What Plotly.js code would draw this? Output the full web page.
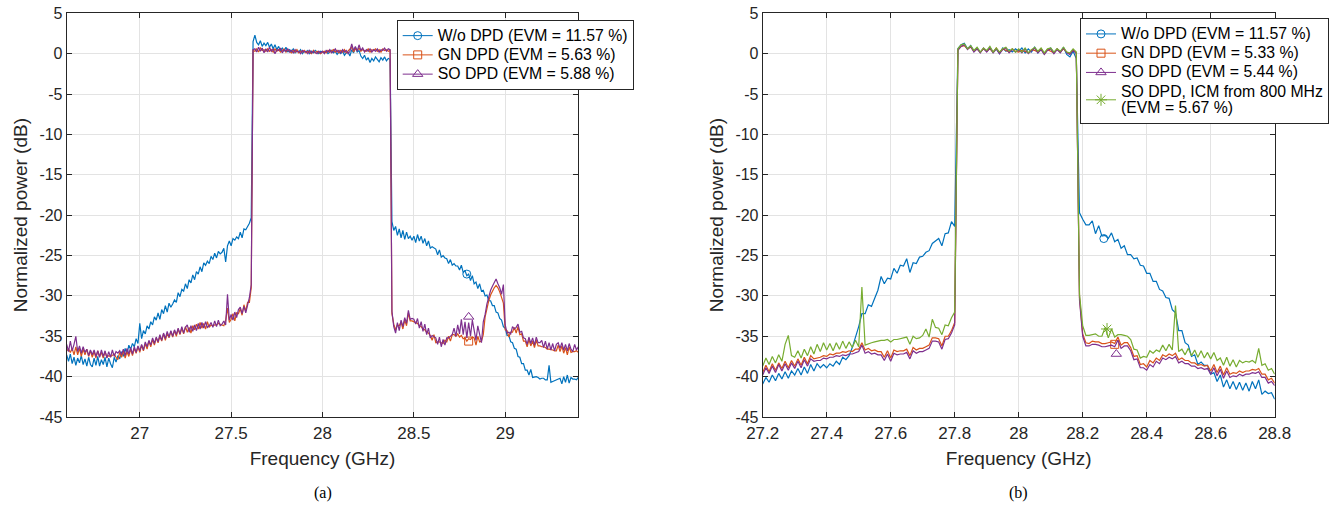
<!DOCTYPE html>
<html>
<head>
<meta charset="utf-8">
<script src="https://cdn.plot.ly/plotly-3.0.1.min.js"></script>
<style>html,body{margin:0;padding:0;background:#fff;}#chart{width:1337px;height:506px;}</style>
</head>
<body>
<div id="chart"></div>
<script>
// ---------- Panel (a): frequency grid 26.60 .. 29.40 GHz, 0.01 GHz step ----------
const fStartA = 26.6, fStepA = 0.01, nA = 281;
// ---------- Panel (b): frequency grid 27.20 .. 28.80 GHz, 0.01 GHz step ----------
const fStartB = 27.2, fStepB = 0.01, nB = 161;

// Panel (a) normalized power (dB)
const woA = [
-37.3,-38.1,-37.2,-38.4,-37.6,-38.6,-37.7,-38.3,-37.4,-38.5,
-37.8,-38.7,-37.6,-38.5,-38.8,-37.7,-38.6,-37.5,-38.7,-37.9,
-38.5,-37.6,-38.8,-37.7,-38.4,-38.9,-37.6,-38.2,-37.4,-37.8,
-36.9,-37.5,-36.5,-37.2,-36.1,-36.6,-35.9,-36.3,-35.3,-35.9,
-33.4,-35.3,-34.3,-34.7,-33.7,-34.1,-33.2,-33.6,-32.6,-33.0,
-32.1,-32.9,-31.7,-32.2,-31.2,-32.0,-30.9,-31.4,-31.0,-30.5,
-30.8,-29.6,-30.1,-29.2,-29.4,-28.5,-29.1,-28.0,-28.4,-27.4,
-28.0,-27.0,-27.3,-26.4,-27.0,-25.9,-26.2,-25.7,-26.0,-25.1,
-25.5,-24.7,-25.3,-24.5,-24.8,-24.6,-24.1,-25.8,-23.8,-23.2,
-23.8,-22.9,-23.1,-22.7,-22.9,-22.1,-22.8,-21.7,-21.8,-21.4,
-21.0,-20.3,1.5,2.3,1.4,1.1,1.6,0.9,1.3,1.0,
1.4,0.8,1.2,0.6,1.1,0.5,0.9,0.4,0.7,0.3,
0.8,0.2,0.5,0.3,0.6,0.1,0.4,0.2,0.5,0.0,
0.3,0.2,0.4,0.0,0.3,0.1,0.4,0.2,0.0,0.3,
0.2,0.1,0.3,0.0,0.2,0.4,0.1,0.3,-0.1,0.2,
0.0,0.3,-0.2,0.1,0.2,-0.3,0.5,0.1,0.8,0.2,
0.4,-0.3,-0.6,-0.2,-0.8,-0.5,-1.1,-0.6,-0.9,-0.4,
-0.7,-1.0,-0.5,-0.8,-0.4,-0.9,-0.6,-0.7,-20.8,-21.9,
-21.4,-22.5,-21.7,-22.8,-21.9,-23.0,-22.1,-22.9,-22.6,-23.1,
-22.6,-23.4,-22.4,-23.2,-22.6,-23.5,-22.9,-23.8,-23.2,-24.1,
-23.9,-24.0,-24.2,-24.9,-24.3,-25.2,-25.0,-25.3,-25.4,-26.0,
-25.5,-26.2,-26.0,-26.3,-26.3,-26.8,-26.2,-27.1,-26.9,-27.5,
-27.3,-28.1,-27.5,-28.5,-28.3,-29.1,-28.5,-29.4,-29.3,-30.0,
-29.9,-30.6,-30.6,-31.2,-31.2,-32.0,-32.1,-32.8,-33.0,-33.8,
-34.0,-34.9,-34.9,-35.7,-35.8,-36.5,-36.6,-37.5,-37.6,-38.4,
-38.4,-39.2,-39.2,-39.8,-39.1,-40.1,-40.0,-40.0,-40.1,-40.3,
-40.2,-40.2,-40.4,-40.4,-38.6,-40.7,-40.6,-40.5,-40.4,-40.3,
-40.2,-40.9,-40.0,-40.7,-39.8,-40.8,-40.1,-40.3,-40.3,-40.4,
-40.1];
const gnA = [
-36.8,-36.6,-37.0,-36.5,-37.3,-36.3,-37.3,-36.5,-37.5,-36.6,
-37.3,-36.6,-37.5,-36.8,-37.6,-36.9,-37.7,-36.8,-37.5,-37.0,
-37.7,-36.9,-37.6,-37.4,-37.5,-37.3,-37.2,-37.6,-37.9,-37.0,
-37.6,-36.8,-37.7,-36.9,-37.5,-36.6,-37.4,-36.5,-37.1,-36.3,
-37.0,-36.1,-36.8,-35.9,-36.6,-35.6,-36.3,-35.4,-36.1,-35.2,
-35.8,-35.0,-35.6,-34.7,-35.5,-34.6,-35.2,-34.4,-35.1,-34.3,
-35.0,-34.1,-34.8,-34.0,-34.7,-33.8,-34.5,-33.9,-34.6,-33.7,
-34.2,-33.5,-34.1,-33.3,-34.0,-33.4,-34.1,-33.2,-33.9,-33.6,
-33.7,-33.6,-33.6,-33.4,-33.5,-33.7,-33.7,-33.0,-31.5,-33.3,
-32.9,-32.2,-33.1,-32.1,-32.2,-31.6,-32.4,-31.1,-31.9,-30.8,
-30.8,-29.0,0.4,0.3,0.6,0.2,0.7,0.4,0.5,0.3,
0.6,0.3,0.5,0.2,0.6,0.3,0.5,0.2,0.4,0.6,
0.2,0.5,0.3,0.1,0.4,0.2,0.5,0.1,0.3,0.2,
0.4,0.1,0.3,0.2,0.0,0.4,0.1,0.3,0.2,0.0,
0.2,0.3,0.1,0.4,0.2,0.3,0.5,0.2,0.4,0.1,
0.4,0.2,0.5,0.1,0.3,0.6,0.8,0.2,0.6,0.4,
0.7,0.3,0.5,0.4,0.3,0.6,0.2,0.5,0.4,0.6,
0.3,0.5,0.2,0.6,0.4,0.5,0.3,0.4,-32.2,-33.5,
-34.2,-33.6,-33.7,-33.2,-34.1,-33.0,-33.7,-32.1,-33.1,-33.1,
-33.2,-33.4,-33.4,-33.7,-33.8,-34.1,-34.2,-34.5,-34.6,-34.9,
-35.5,-34.8,-35.8,-35.7,-35.7,-35.8,-35.9,-35.5,-35.7,-35.0,
-35.6,-34.8,-34.8,-35.0,-34.7,-35.1,-34.9,-35.3,-35.2,-35.6,
-35.3,-35.4,-35.1,-35.2,-36.1,-35.0,-35.7,-35.6,-34.8,-32.6,
-31.5,-30.6,-29.9,-29.4,-29.0,-28.7,-29.0,-29.5,-30.3,-30.9,
-34.2,-34.3,-35.1,-34.5,-34.5,-33.9,-34.6,-33.8,-34.8,-34.7,
-35.6,-35.6,-36.3,-35.4,-36.2,-35.6,-36.4,-35.5,-36.2,-36.2,
-36.3,-36.3,-36.4,-36.6,-36.6,-36.7,-36.7,-36.8,-36.8,-36.1,
-36.9,-36.2,-37.1,-36.4,-37.3,-36.3,-37.0,-36.9,-36.9,-36.8,
-37.0];
const soA = [
-36.0,-36.9,-35.6,-36.8,-36.0,-35.0,-36.9,-36.2,-37.1,-36.3,
-37.0,-36.6,-37.4,-36.7,-37.3,-36.7,-37.5,-36.8,-37.6,-36.7,
-37.5,-36.8,-37.7,-36.9,-37.6,-36.7,-37.5,-36.9,-37.1,-36.8,
-37.3,-36.6,-37.4,-36.5,-37.2,-36.4,-37.2,-36.3,-37.0,-36.2,
-36.8,-36.0,-36.7,-35.7,-36.3,-35.5,-36.1,-35.2,-35.9,-35.1,
-35.7,-34.8,-35.5,-34.6,-35.3,-34.4,-35.1,-34.3,-35.0,-34.2,
-34.8,-34.0,-34.7,-33.8,-34.6,-33.9,-33.6,-34.5,-33.7,-34.4,
-33.6,-34.3,-33.4,-34.1,-33.3,-34.0,-33.2,-33.9,-33.7,-33.3,
-33.9,-33.1,-33.8,-33.0,-33.7,-33.5,-33.1,-33.6,-29.8,-33.0,
-32.3,-33.0,-32.0,-32.7,-31.7,-31.4,-32.2,-31.3,-32.1,-31.1,
-30.2,-28.6,0.5,0.6,0.2,0.8,0.3,0.7,0.1,0.6,
0.2,0.8,0.3,0.6,0.0,0.5,0.4,0.7,0.1,0.5,
0.3,0.6,0.2,0.4,0.1,0.5,0.2,0.3,0.0,0.4,
0.2,0.3,0.0,0.4,0.1,0.3,0.2,0.0,0.3,0.1,
0.3,0.0,0.4,0.2,0.5,0.1,0.3,0.6,0.2,0.4,
0.1,0.5,0.2,0.4,0.0,0.3,1.2,0.4,0.9,0.3,
1.1,0.4,0.7,0.2,0.5,0.3,0.6,0.2,0.5,0.3,
0.6,0.2,0.5,0.4,0.7,0.3,0.6,0.5,-31.9,-33.8,
-34.6,-33.3,-34.3,-33.0,-33.8,-32.7,-33.4,-31.8,-32.9,-32.8,
-32.9,-33.5,-32.8,-34.0,-33.2,-34.4,-33.5,-34.8,-34.0,-35.2,
-34.9,-35.0,-35.2,-36.0,-35.1,-36.3,-35.4,-36.1,-35.2,-35.2,
-35.0,-34.8,-34.0,-35.0,-33.6,-34.7,-32.9,-34.8,-33.2,-35.2,
-33.3,-35.0,-33.0,-34.5,-35.5,-33.7,-35.0,-35.8,-33.2,-32.3,
-31.0,-30.0,-29.3,-28.8,-28.3,-27.9,-28.5,-29.0,-29.8,-28.6,
-33.6,-34.6,-34.5,-34.7,-33.8,-34.1,-33.9,-33.5,-34.5,-34.4,
-35.2,-35.3,-36.0,-35.1,-35.9,-35.2,-36.1,-35.1,-35.8,-35.8,
-35.5,-36.4,-35.6,-36.6,-35.8,-36.7,-35.9,-36.8,-36.0,-35.8,
-36.5,-35.8,-36.7,-36.0,-36.8,-35.9,-36.6,-36.9,-36.0,-36.7,
-36.3];

// Panel (b) normalized power (dB)
const woB = [
-40.9,-40.1,-40.7,-39.8,-40.5,-39.6,-40.3,-39.4,-40.2,-39.3,
-39.8,-39.0,-39.8,-38.8,-39.6,-38.5,-39.3,-38.4,-38.9,-38.5,
-38.9,-38.4,-38.7,-38.1,-38.5,-37.6,-37.9,-37.4,-36.4,-35.2,
-33.8,-32.2,-32.2,-31.1,-31.3,-30.3,-29.3,-27.6,-28.5,-27.8,
-27.9,-26.6,-27.2,-26.2,-26.3,-25.4,-27.1,-25.9,-26.0,-25.2,
-25.1,-24.6,-24.4,-23.5,-23.2,-22.9,-23.8,-22.3,-22.2,-20.8,
-21.4,0.6,1.1,1.3,0.6,1.0,0.3,0.7,0.2,0.6,
0.3,0.8,0.2,0.6,0.0,0.7,0.3,0.5,0.2,0.6,
0.3,0.7,0.1,0.6,0.2,0.8,0.1,0.6,0.0,0.5,
0.7,0.1,0.6,0.2,0.8,-0.1,-0.4,0.3,-0.6,-19.7,
-20.5,-21.2,-21.2,-20.7,-22.3,-21.3,-22.6,-22.5,-22.9,-22.2,
-23.3,-23.0,-24.1,-23.8,-24.9,-24.9,-25.4,-25.3,-26.2,-26.3,
-27.2,-27.2,-28.2,-28.2,-29.2,-29.4,-30.2,-30.3,-31.7,-32.1,
-34.3,-34.3,-35.8,-36.1,-37.5,-37.3,-38.5,-38.2,-38.6,-38.6,
-39.7,-39.5,-40.6,-39.8,-41.3,-40.4,-41.5,-40.6,-41.6,-40.7,
-41.7,-40.8,-41.8,-40.6,-41.5,-40.4,-42.2,-41.8,-42.1,-42.0,
-42.8];
const gnB = [
-39.5,-38.6,-39.4,-38.4,-39.2,-38.3,-39.0,-38.1,-38.9,-38.0,
-38.7,-37.8,-38.6,-37.6,-38.4,-37.4,-37.8,-37.7,-37.6,-37.4,
-37.5,-37.2,-37.3,-37.1,-37.1,-36.9,-37.0,-36.8,-36.9,-36.6,
-36.6,-35.8,-36.7,-36.5,-36.8,-36.7,-36.9,-36.9,-37.6,-36.8,
-37.7,-36.7,-36.9,-36.8,-36.8,-36.6,-37.4,-36.4,-36.7,-36.5,
-36.5,-36.3,-36.1,-35.2,-35.2,-35.3,-36.2,-35.0,-35.0,-34.3,
-33.3,0.5,0.9,1.0,0.6,0.8,0.3,0.6,0.2,0.6,
0.3,0.6,0.2,0.7,0.1,0.6,0.4,0.2,0.6,0.3,
0.2,0.4,0.3,0.1,0.5,0.4,0.2,0.6,0.0,0.5,
0.3,0.1,0.6,0.2,0.6,0.2,0.0,0.5,0.1,-30.2,
-34.7,-35.8,-35.9,-35.6,-35.7,-35.7,-35.9,-35.9,-35.8,-35.7,
-35.9,-35.1,-36.1,-35.8,-35.8,-36.4,-37.5,-37.4,-38.5,-38.4,
-38.8,-38.0,-38.3,-37.7,-38.0,-37.3,-37.5,-37.2,-37.4,-37.1,
-37.9,-37.7,-38.0,-38.0,-38.3,-38.3,-38.6,-38.5,-38.7,-38.6,
-39.3,-38.5,-39.5,-38.7,-39.8,-38.9,-39.7,-39.5,-39.6,-39.3,
-39.5,-39.3,-39.3,-39.1,-39.2,-39.0,-39.7,-39.7,-40.4,-40.2,
-40.8];
const soB = [
-39.8,-38.9,-39.6,-38.7,-39.5,-38.5,-39.3,-38.4,-39.2,-38.3,
-39.0,-38.1,-38.9,-37.9,-38.7,-37.8,-38.1,-38.0,-38.0,-37.7,
-37.8,-37.6,-37.6,-37.4,-37.5,-37.3,-37.4,-37.2,-37.2,-37.0,
-36.9,-36.1,-37.1,-36.9,-37.2,-37.1,-37.3,-37.3,-38.0,-37.2,
-38.1,-37.1,-37.3,-37.2,-37.2,-37.0,-37.8,-36.8,-37.1,-36.9,
-36.9,-36.7,-36.5,-35.6,-35.6,-35.7,-36.6,-35.4,-35.3,-34.6,
-33.6,0.4,0.9,1.1,0.5,0.9,0.2,0.6,0.1,0.7,
0.2,0.7,0.1,0.6,0.0,0.5,0.7,0.1,0.5,0.2,
0.5,0.1,0.6,0.0,0.4,0.7,0.1,0.5,-0.1,0.4,
0.6,0.0,0.5,0.1,0.7,0.1,-0.1,0.4,0.0,-30.5,
-35.0,-36.2,-36.2,-36.0,-36.0,-36.1,-36.3,-36.3,-36.2,-36.1,
-36.3,-35.5,-36.5,-36.2,-36.2,-36.8,-37.9,-37.8,-38.9,-38.9,
-39.2,-38.5,-38.8,-38.1,-38.4,-37.7,-37.9,-37.6,-37.8,-37.5,
-38.3,-38.1,-38.4,-38.4,-38.7,-38.7,-39.0,-38.9,-39.1,-39.0,
-39.7,-38.9,-39.9,-39.1,-40.2,-39.3,-40.1,-39.9,-40.0,-39.7,
-39.9,-39.7,-39.7,-39.5,-39.6,-39.4,-40.1,-40.1,-40.8,-40.6,
-41.1];
const icmB = [
-38.7,-37.7,-38.5,-37.5,-38.3,-37.3,-38.1,-36.0,-34.9,-37.4,
-37.6,-36.8,-37.7,-36.6,-37.4,-36.3,-37.2,-36.0,-36.9,-35.8,
-36.7,-35.9,-36.8,-35.8,-36.6,-35.6,-36.5,-35.7,-36.4,-35.5,
-36.3,-28.9,-36.1,-35.9,-35.8,-35.7,-35.6,-35.5,-35.5,-35.4,
-35.7,-35.4,-35.4,-35.3,-35.2,-35.1,-36.0,-35.0,-35.3,-35.2,
-34.9,-34.1,-35.1,-32.9,-33.9,-34.0,-34.8,-33.6,-33.7,-32.7,
-32.0,0.6,1.1,1.2,0.6,1.0,0.4,0.8,0.2,0.7,
0.4,0.9,0.2,0.7,0.2,0.6,0.8,0.3,0.6,0.2,
0.6,0.2,0.7,0.1,0.5,0.8,0.3,0.7,0.1,0.6,
0.7,0.2,0.6,0.3,0.8,0.2,0.1,0.6,0.2,-29.8,
-33.7,-34.9,-34.9,-34.8,-34.7,-35.0,-35.0,-33.9,-35.2,-34.1,
-35.1,-34.8,-34.8,-34.9,-35.0,-35.4,-36.6,-36.7,-37.7,-37.5,
-37.6,-36.8,-37.1,-36.7,-36.9,-36.1,-36.8,-36.0,-36.7,-31.2,
-36.9,-36.6,-37.3,-36.5,-37.4,-36.7,-37.6,-36.8,-37.7,-37.0,
-37.8,-37.0,-38.0,-37.7,-38.6,-37.6,-38.7,-37.9,-38.8,-38.0,
-38.3,-38.1,-38.2,-38.0,-38.3,-36.5,-38.6,-38.4,-39.2,-39.0,
-39.7];

// Single marker positions (GHz, dB)
const mkA_x = [28.79, 28.80, 28.80];
const mkA_y = [-27.3, -35.6, -32.6];
const mkB_x = [28.266, 28.30, 28.305, 28.276];
const mkB_y = [-22.9, -36.0, -37.2, -34.1];

// Legend labels
const namesA = ['W/o DPD (EVM = 11.57 %)', 'GN DPD (EVM = 5.63 %)', 'SO DPD (EVM = 5.88 %)'];
const namesB = ['W/o DPD (EVM = 11.57 %)', 'GN DPD (EVM = 5.33 %)', 'SO DPD (EVM = 5.44 %)',
                'SO DPD, ICM from 800 MHz<br>(EVM = 5.67 %)'];

// Tick labels
const yTickVals = [-45,-40,-35,-30,-25,-20,-15,-10,-5,0,5];
const yTickText = ['-45','-40','-35','-30','-25','-20','-15','-10','-5','0','5'];
const xTickValsA = [27, 27.5, 28, 28.5, 29];
const xTickTextA = ['27', '27.5', '28', '28.5', '29'];
const xTickValsB = [27.2, 27.4, 27.6, 27.8, 28, 28.2, 28.4, 28.6, 28.8];
const xTickTextB = ['27.2', '27.4', '27.6', '27.8', '28', '28.2', '28.4', '28.6', '28.8'];

// ---------- build ----------
function grid(start, step, n) {
  const a = [];
  for (let i = 0; i < n; i++) a.push(Math.round((start + i * step) * 1000) / 1000);
  return a;
}
const freqA = grid(fStartA, fStepA, nA);
const freqB = grid(fStartB, fStepB, nB);

const colors = ['#0072BD', '#D95319', '#7E2F8E', '#77AC30'];
const symbols = ['circle-open', 'square-open', 'triangle-up-open', 'asterisk-open'];
const msizes = [8, 8, 9, 10];
const LEG_TEXT_PX = 15.8;
function legendLabel(s) {
  return s.split('<br>').map(p => '<span style="font-size:' + LEG_TEXT_PX + 'px">' + p + '</span>').join('<br>');
}

const traces = [];
function addSeries(x, y, mx, my, idx, name, xa, ya, leg) {
  traces.push({x: x, y: y, xaxis: xa, yaxis: ya, type: 'scatter', mode: 'lines',
    line: {color: colors[idx], width: 1.2}, showlegend: false, hoverinfo: 'skip'});
  traces.push({x: [mx], y: [my], xaxis: xa, yaxis: ya, type: 'scatter', mode: 'markers',
    marker: {symbol: symbols[idx], size: msizes[idx], color: colors[idx], line: {width: 1, color: colors[idx]}},
    showlegend: false, hoverinfo: 'skip'});
  traces.push({x: [null], y: [null], xaxis: xa, yaxis: ya, type: 'scatter', mode: 'lines+markers',
    name: legendLabel(name), legend: leg,
    line: {color: colors[idx], width: 1},
    marker: {symbol: symbols[idx], size: msizes[idx], color: colors[idx], line: {width: 1, color: colors[idx]}}});
}
const seriesA = [woA, gnA, soA];
seriesA.forEach((s, i) => addSeries(freqA, s, mkA_x[i], mkA_y[i], i, namesA[i], 'x', 'y', 'legend'));
const seriesB = [woB, gnB, soB, icmB];
seriesB.forEach((s, i) => addSeries(freqB, s, mkB_x[i], mkB_y[i], i, namesB[i], 'x2', 'y2', 'legend2'));

const txt = '#262626';
const fontFam = '"Liberation Sans", Arial, Helvetica, sans-serif';
function xax(domain, range, tv, tt, anchor) {
  return {domain: domain, range: range, tickvals: tv, ticktext: tt, anchor: anchor,
    showline: true, linecolor: txt, linewidth: 1, mirror: 'ticks',
    ticks: 'inside', ticklen: 5, tickcolor: txt, tickwidth: 1,
    showgrid: true, gridcolor: '#e3e3e3', gridwidth: 1, zeroline: false,
    tickfont: {family: fontFam, size: 17, color: txt}, ticklabelstandoff: 1,
    title: {text: 'Frequency (GHz)', font: {family: fontFam, size: 19, color: txt}, standoff: 9}};
}
function yax(domain, anchor) {
  return {domain: domain, range: [-45, 5], anchor: anchor, tickvals: yTickVals, ticktext: yTickText,
    showline: true, linecolor: txt, linewidth: 1, mirror: 'ticks',
    ticks: 'inside', ticklen: 5, tickcolor: txt, tickwidth: 1,
    showgrid: true, gridcolor: '#e3e3e3', gridwidth: 1, zeroline: false,
    tickfont: {family: fontFam, size: 16, color: txt},
    title: {text: 'Normalized power (dB)', font: {family: fontFam, size: 19, color: txt}, standoff: 6}};
}
const W = 1337, H = 506;
const yDom = [(H - 417) / H, (H - 13.3) / H];
const legendStyle = {bgcolor: '#ffffff', bordercolor: txt, borderwidth: 1,
  font: {family: fontFam, size: 12.5, color: '#000000'}, xanchor: 'left', yanchor: 'top',
  tracegroupgap: 0, itemclick: false, itemdoubleclick: false};
const layout = {
  width: W, height: H, margin: {l: 0, r: 0, t: 0, b: 0},
  paper_bgcolor: '#ffffff', plot_bgcolor: '#ffffff', showlegend: true,
  xaxis: xax([66.7 / W, 578.3 / W], [26.6, 29.4], xTickValsA, xTickTextA, 'y'),
  yaxis: yax(yDom, 'x'),
  xaxis2: xax([762.7 / W, 1274.7 / W], [27.2, 28.8], xTickValsB, xTickTextB, 'y2'),
  yaxis2: yax(yDom, 'x2'),
  legend: Object.assign({}, legendStyle, {x: 396.7 / W, y: 1 - 20 / H}),
  legend2: Object.assign({}, legendStyle, {x: 1080 / W, y: 1 - 18.3 / H}),
  annotations: [
    {text: '(a)', xref: 'paper', yref: 'paper', x: 322.5 / W, y: (H - 493) / H, showarrow: false,
     xanchor: 'center', yanchor: 'middle', font: {family: '"Liberation Serif", "Times New Roman", serif', size: 16, color: '#000'}},
    {text: '(b)', xref: 'paper', yref: 'paper', x: 1018.7 / W, y: (H - 493) / H, showarrow: false,
     xanchor: 'center', yanchor: 'middle', font: {family: '"Liberation Serif", "Times New Roman", serif', size: 16, color: '#000'}}
  ]
};
Plotly.newPlot('chart', traces, layout, {staticPlot: true, displayModeBar: false});
</script>
</body>
</html>
